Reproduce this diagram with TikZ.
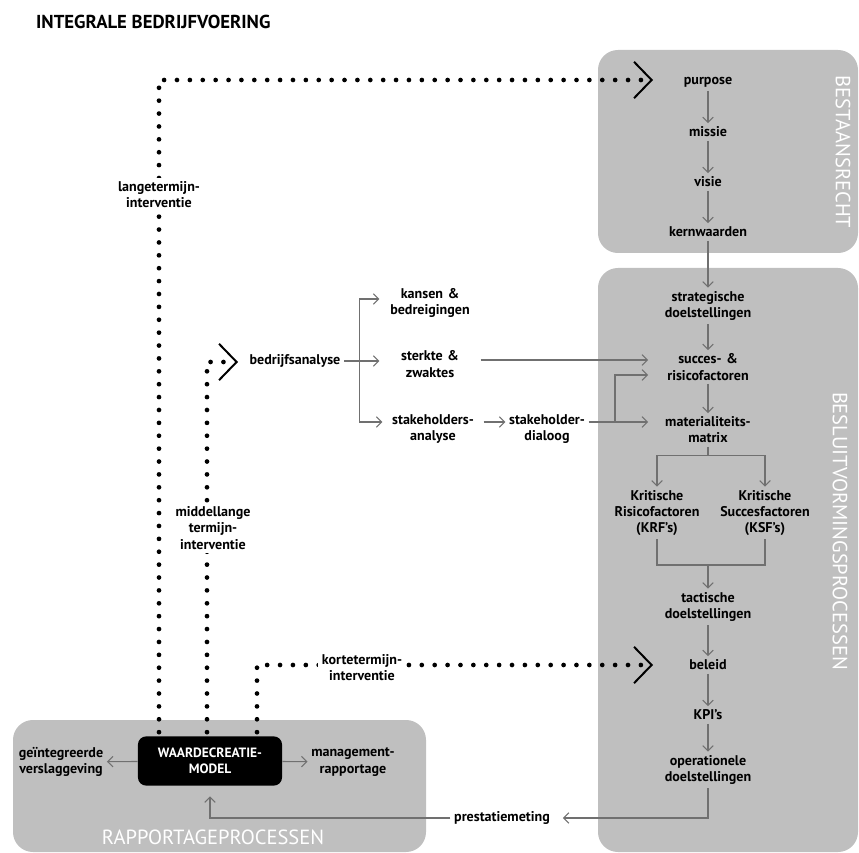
\documentclass[tikz,border=0pt]{standalone}
\usepackage{fontspec}
\setmainfont{PT Sans}
\usetikzlibrary{positioning,arrows.meta,calc}
\definecolor{boxgray}{HTML}{BFBFBF}
\definecolor{linegray}{HTML}{707070}
\tikzset{
  lbl/.style={font=\bfseries\fontsize{12}{13.8}\selectfont, align=center, inner sep=3pt},
  mid/.style={lbl, text width=96pt},
  intv/.style={lbl, fill=white},
  garrow/.style={draw=linegray, line width=0.9pt, -{Straight Barb[length=4.5pt,width=9pt]}},
  gline/.style={draw=linegray, line width=0.9pt},
  dots/.style={line width=4pt, line cap=round, dash pattern=on 0pt off 11pt},
  chev/.style={-{Straight Barb[length=15pt,width=31pt,line width=1.7pt]}},
  procbox/.style={fill=boxgray, rounded corners=17pt},
  proclbl/.style={text=white, font=\fontsize{17.5}{20}\selectfont},
}

\begin{document}
\begin{tikzpicture}[x=0.03cm,y=-0.03cm]
\useasboundingbox (0,0) rectangle (859,853);
\fill[procbox] (598,50) rectangle (858,253);
\fill[procbox] (598,268) rectangle (858,852);
\fill[procbox] (13,720) rectangle (426,852);
\node[anchor=west,font=\bfseries\fontsize{16}{18}\selectfont] (title) at (32,22) {INTEGRALE BEDRIJFVOERING};
\node[proclbl,rotate=-90] (bestlbl) at (843,152) {BESTAANSRECHT};
\node[proclbl,rotate=-90] (beslbl) at (840,531) {BESLUITVORMINGSPROCESSEN};
\node[proclbl] (raplbl) at (213,837) {RAPPORTAGEPROCESSEN};
% bestaansrecht en besluitvorming
\node[mid] (purpose) at (708,82) {purpose};
\node[mid] (missie) at (708,132) {missie};
\node[mid] (visie) at (708,182) {visie};
\node[mid] (kern) at (708,232) {kernwaarden};
\node[mid] (strat) at (708,306) {strategische\\doelstellingen};
\node[mid] (succes) at (708,367) {succes- \&\\risicofactoren};
\node[mid] (matrix) at (708,430) {materialiteits-\\matrix};
\node[lbl] (krf) at (657,513) {Kritische\\Risicofactoren\\(KRF’s)};
\node[lbl] (ksf) at (765,513) {Kritische\\Succesfactoren\\(KSF’s)};
\node[mid] (tact) at (708,607) {tactische\\doelstellingen};
\node[mid] (beleid) at (708,665) {beleid};
\node[mid] (kpi) at (708,715) {KPI’s};
\node[mid] (oper) at (708,770) {operationele\\doelstellingen};
\draw[garrow] (purpose) -- (missie);
\draw[garrow] (missie) -- (visie);
\draw[garrow] (visie) -- (kern);
\draw[garrow] (kern) -- (strat);
\draw[garrow] (strat) -- (succes);
\draw[garrow] (succes) -- (matrix);
\coordinate (split) at ($(matrix.south)+(0,9)$);
\draw[gline] (matrix) -- (split);
\draw[garrow] (split) -| (krf);
\draw[garrow] (split) -| (ksf);
\coordinate (join) at (708,565);
\draw[gline] (krf) |- (join) -| (ksf);
\draw[garrow] (join) -- (tact);
\draw[garrow] (tact) -- (beleid);
\draw[garrow] (beleid) -- (kpi);
\draw[garrow] (kpi) -- (oper);
% bedrijfsanalyse
\node[lbl] (bedrijf) at (295,361) {bedrijfsanalyse};
\node[lbl,text width=80pt] (kansen) at (430,303) {kansen \&\\bedreigingen};
\node[lbl,text width=80pt] (sterkte) at (430,364) {sterkte \&\\zwaktes};
\node[lbl,text width=80pt] (stakeA) at (433,429) {stakeholders-\\analyse};
\node[lbl] (dialoog) at (547,429) {stakeholder-\\dialoog};
\coordinate (branch) at ($(bedrijf.east)+(15,0)$);
\draw[garrow] (bedrijf.east) -- (bedrijf.east -| sterkte.west);
\draw[garrow] (branch) |- ($(kansen.west)+(0,-4)$);
\draw[garrow] (branch) |- ($(stakeA.west)+(0,-7)$);
\draw[garrow] ($(stakeA.east)+(0,-7)$) -- ($(dialoog.west)+(0,-7)$);
\draw[garrow] ($(sterkte.east)+(0,-4)$) -- ($(succes.west)+(0,-7)$);
\coordinate (jn) at (615,422);
\draw[gline] ($(dialoog.east)+(0,-7)$) -- (jn);
\draw[garrow] (jn) -- ($(matrix.west)+(0,-8)$);
\draw[garrow] (jn) |- ($(succes.west)+(0,8)$);
% rapportage
\node[lbl,fill=black,text=white,rounded corners=7pt,minimum width=123pt,minimum height=42pt,font=\bfseries\fontsize{11.5}{14}\selectfont] (wcm) at (210,761) {WAARDECREATIE-\\MODEL};
\node[lbl] (geint) at (61,762) {geïntegreerde\\verslaggeving};
\node[lbl] (mgmt) at (353,762) {management-\\rapportage};
\node[lbl] (prest) at (502,818) {prestatiemeting};
\draw[garrow] (wcm) -- (geint);
\draw[garrow] (wcm) -- (mgmt);
\draw[garrow,shorten >=8pt] (oper) |- (prest);
\draw[garrow,shorten >=9pt] (prest) -| (wcm);
% interventies
\coordinate (inPurpose) at (653,80);
\coordinate (inBA) at (238,362);
\coordinate (inBeleid) at (653,665);
\draw[dots,chev] ($(wcm.north)+(-3,-4)$) |- (inBA);
\node[intv] (midlbl) at (213,528) {middellange\\termijn-\\interventie};
\draw[dots,chev] ($(wcm.north)+(47,-4)$) |- (inBeleid);
\node[intv] (shortlbl) at (362,668) {kortetermijn-\\interventie};
\draw[dots,chev] ($(wcm.north)+(-51,-4)$) |- (inPurpose);
\node[intv] (longlbl) at (159,195) {langetermijn-\\interventie};
\end{tikzpicture}
\end{document}
